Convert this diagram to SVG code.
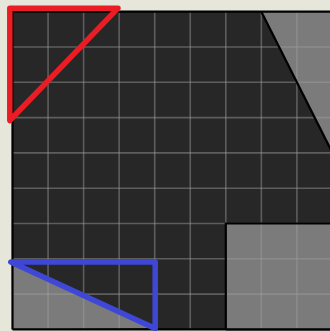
<svg xmlns="http://www.w3.org/2000/svg" width="330" height="331" viewBox="0 0 330 331">
  <style>
    .grid line { stroke: #a0a0a0; stroke-opacity: 0.45; stroke-width: 1.6; }
    .shade { fill: #7b7b7b; }
    .edge { fill: none; stroke: #000; stroke-width: 2.2; }
    .tri { fill: none; stroke-width: 5.5; stroke-linejoin: round; stroke-linecap: round; }
  </style>
  <rect width="330" height="331" fill="#e6e6da"/>
  <g id="board">
    <rect x="12.5" y="11.7" width="330" height="317.7" fill="#272727"/>
  </g>
  <g id="shaded-regions">
    <polygon id="top-right" class="shade" points="261.35,11.7 340,11.7 340,167.9"/>
    <rect id="bottom-right" class="shade" x="225.8" y="223.5" width="120" height="110"/>
    <polygon id="bottom-left" class="shade" points="11.5,262.5 155,328 12.5,329.4"/>
  </g>
  <g class="grid" id="grid">
    <line x1="48.05" y1="11.7" x2="48.05" y2="329.4"/>
    <line x1="83.6" y1="11.7" x2="83.6" y2="329.4"/>
    <line x1="119.15" y1="11.7" x2="119.15" y2="329.4"/>
    <line x1="154.7" y1="11.7" x2="154.7" y2="329.4"/>
    <line x1="190.25" y1="11.7" x2="190.25" y2="329.4"/>
    <line x1="225.8" y1="11.7" x2="225.8" y2="329.4"/>
    <line x1="261.35" y1="11.7" x2="261.35" y2="329.4"/>
    <line x1="296.9" y1="11.7" x2="296.9" y2="329.4"/>
    <line x1="12.5" y1="47" x2="330" y2="47"/>
    <line x1="12.5" y1="82.3" x2="330" y2="82.3"/>
    <line x1="12.5" y1="117.6" x2="330" y2="117.6"/>
    <line x1="12.5" y1="152.9" x2="330" y2="152.9"/>
    <line x1="12.5" y1="188.2" x2="330" y2="188.2"/>
    <line x1="12.5" y1="223.5" x2="330" y2="223.5"/>
    <line x1="12.5" y1="258.8" x2="330" y2="258.8"/>
    <line x1="12.5" y1="294.1" x2="330" y2="294.1"/>
  </g>
  <g id="edges">
    <polyline class="edge" points="12.5,329.4 12.5,11.7 340,11.7"/>
    <line class="edge" x1="12.5" y1="329.4" x2="340" y2="329.4"/>
    <polyline class="edge" points="225.8,329.4 225.8,223.5 340,223.5"/>
    <line class="edge" x1="261.35" y1="11.7" x2="340" y2="167.9"/>
  </g>
  <g id="red-triangle">
    <polygon class="tri" stroke="#ec1c24" points="9.8,8.2 118,8.2 9.8,120.5"/>
  </g>
  <g id="blue-triangle">
    <polygon class="tri" stroke="#3f48d6" points="10.8,262 155.2,262 155.2,328.5"/>
  </g>
</svg>
